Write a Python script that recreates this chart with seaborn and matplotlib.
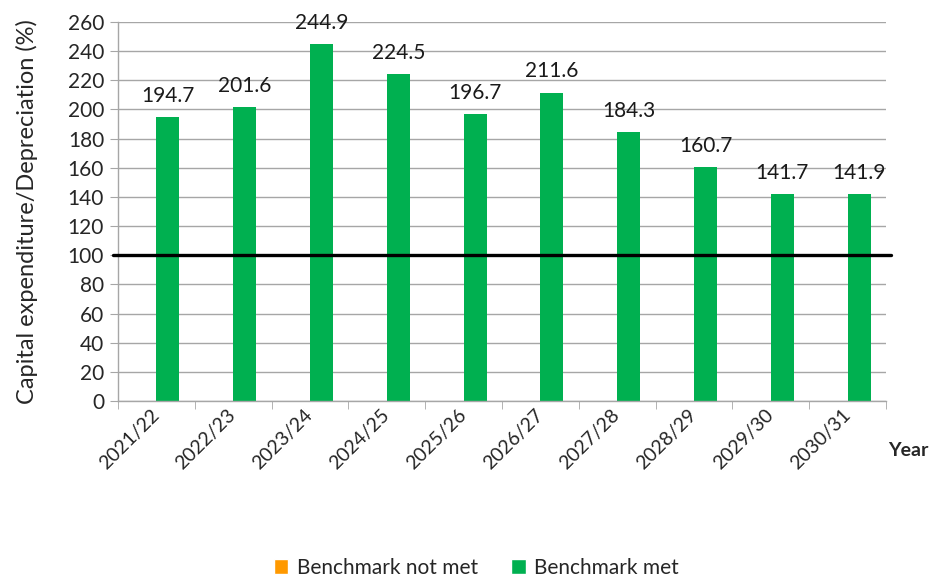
import pandas as pd
import matplotlib.pyplot as plt
import seaborn as sns
from matplotlib.patches import Patch
from matplotlib.ticker import FixedLocator

# ---------- Data ----------
years = ["2021/22", "2022/23", "2023/24", "2024/25", "2025/26",
         "2026/27", "2027/28", "2028/29", "2029/30", "2030/31"]
met = [194.7, 201.6, 244.9, 224.5, 196.7, 211.6, 184.3, 160.7, 141.7, 141.9]
not_met = [0, 0, 0, 0, 0, 0, 0, 0, 0, 0]
benchmark = 100

SERIES = ["Benchmark not met", "Benchmark met"]
ORANGE = "#FF9900"
GREEN = "#00B050"
GRID = "#A6A6A6"

df = pd.concat([
    pd.DataFrame({"Year": years, "Value": not_met, "Status": SERIES[0]}),
    pd.DataFrame({"Year": years, "Value": met, "Status": SERIES[1]}),
])

# ---------- Theme ----------
sns.set_style("white")
plt.rcParams["font.family"] = ["Lato", "DejaVu Sans"]

fig = plt.figure(figsize=(9.3, 5.78), dpi=100)
ax = fig.add_axes([118 / 930, 1 - 401 / 578, 768 / 930, 379 / 578])

sns.barplot(
    data=df, x="Year", y="Value", hue="Status", hue_order=SERIES,
    order=years, palette=[ORANGE, GREEN], width=0.6, linewidth=0,
    saturation=1, legend=False, ax=ax,
)

# value labels on the "met" bars
for i, v in enumerate(met):
    ax.annotate(f"{v:.1f}", (i + 0.15, v), xytext=(0, 8),
                textcoords="offset points", ha="center", va="bottom",
                fontsize=15, color="#1a1a1a")

# benchmark line
ax.axhline(benchmark, xmin=-0.007, xmax=1.007, color="black",
           linewidth=2.4, clip_on=False, zorder=5)

# ---------- Axes ----------
ax.set_xlim(-0.5, len(years) - 0.5)
ax.set_ylim(0, 260)
ax.set_yticks(range(0, 261, 20))
ax.yaxis.grid(True, color=GRID, linewidth=1)
ax.set_axisbelow(True)
for s in ["top", "right"]:
    ax.spines[s].set_visible(False)
for s in ["left", "bottom"]:
    ax.spines[s].set_color(GRID)
    ax.spines[s].set_linewidth(1)

ax.tick_params(axis="y", which="major", length=6, color=GRID, labelsize=15,
               left=True, pad=4)
ax.tick_params(axis="x", which="major", length=0, labelsize=14, pad=8)
ax.xaxis.set_minor_locator(FixedLocator([i - 0.5 for i in range(len(years) + 1)]))
ax.tick_params(axis="x", which="minor", length=6, color=GRID, bottom=True)
plt.setp(ax.get_xticklabels(), rotation=45, ha="right", va="center",
         rotation_mode="anchor")

ax.set_xlabel("")
ax.set_ylabel("Capital expenditure/Depreciation (%)", fontsize=17)
ax.yaxis.set_label_coords(-(118 - 38) / 768, 0.5)

fig.text(888 / 930, 1 - 450 / 578, "Year", ha="left", va="center",
         fontsize=14, fontweight="bold")

handles = [Patch(facecolor=ORANGE, label=SERIES[0]),
           Patch(facecolor=GREEN, label=SERIES[1])]
fig.legend(handles=handles, loc="center", bbox_to_anchor=(0.512, 10 / 578),
           ncol=2, frameon=False, fontsize=15, handlelength=0.7,
           handleheight=0.7, handletextpad=0.4, columnspacing=1.6)

fig.savefig("out.png", dpi=100)
